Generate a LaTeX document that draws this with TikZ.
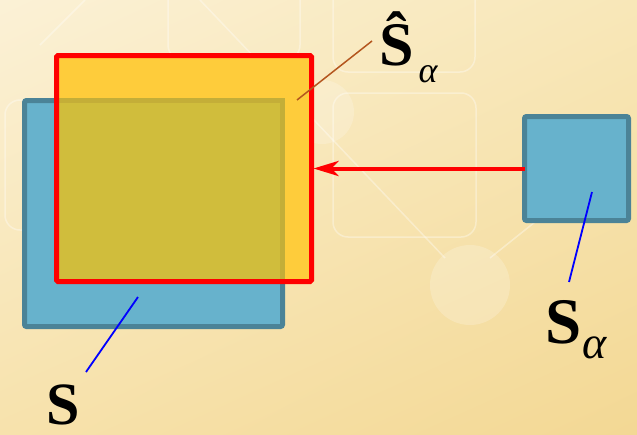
\documentclass[tikz,border=0pt]{standalone}
\usepackage{fontspec}
\setmainfont{Liberation Serif}
\usetikzlibrary{arrows.meta,shadings}

\definecolor{sfill}{HTML}{67B2CC}
\definecolor{sedge}{HTML}{4B8397}
\definecolor{hatyellow}{HTML}{FECC3B}
\definecolor{overlap}{HTML}{D0BD3C}
\definecolor{overedge}{HTML}{C4AE38}
\definecolor{leadbrown}{HTML}{B4561E}
\definecolor{bgtl}{HTML}{FBF1D6}
\definecolor{bgtr}{HTML}{F8E7B8}
\definecolor{bgbl}{HTML}{F7E2AC}
\definecolor{bgbr}{HTML}{F3D894}

\tikzset{
  setbox/.style={rectangle,draw=sedge,fill=sfill,line width=5pt,rounded corners=2pt,outer sep=0pt,inner sep=0pt},
  hatbox/.style={rectangle,fill=hatyellow,outer sep=0pt,inner sep=0pt,minimum width=255pt,minimum height=226pt},
  redline/.style={draw=red,line width=5pt,rounded corners=1.5pt},
  lead/.style={blue,line width=1.8pt},
  lbl/.style={anchor=base west,inner sep=0pt},
  deco/.style={white,opacity=0.35,line width=1.5pt}
}

\begin{document}
\begin{tikzpicture}[x=1pt,y=-1pt]

\useasboundingbox (0,0) rectangle (637,434);
\shade[upper left=bgtl,upper right=bgtr,lower left=bgbl,lower right=bgbr] (0,0) rectangle (637,434);

%background
\draw[deco,rounded corners=15pt] (333,-20) rectangle (475,72);\draw[deco,rounded corners=15pt] (333,93) rectangle (476,237);
\draw[deco,rounded corners=15pt] (5,100) rectangle (120,230);\draw[deco,rounded corners=15pt] (168,-20) rectangle (300,60);
\draw[deco] (200,0)--(445,258);\draw[deco] (85,0)--(40,45);\draw[deco] (490,258)--(535,222);
\fill[white,opacity=0.2] (322,112) circle (32);\fill[white,opacity=0.2] (470,285) circle (40);

\node[setbox,minimum width=258pt,minimum height=226pt] (S) at (153.5,213.5) {};
\node[setbox,minimum width=104pt,minimum height=104pt] (Sa) at (576.5,168.5) {};
\node[hatbox] (Sh) at (184,168.5) {};

\begin{scope}
\clip (Sh.south west) rectangle (Sh.north east);
\fill[overlap] (S.south west) rectangle (S.north east);
\draw[overedge,line width=5pt] (S.south west) rectangle (S.north east);
\end{scope}
\draw[redline] (Sh.south west) rectangle (Sh.north east);

\draw[red,line width=4pt,shorten >=2pt,-{Stealth[length=25pt,width=15pt,inset=7pt]}] (Sa.west)--(Sh.east);

%labels
\node[lbl] (lSh) at (379,65) {\fontsize{62}{62}\selectfont\bfseries Ŝ\kern5pt\raisebox{-17pt}{\fontsize{36}{36}\selectfont\mdseries\itshape α}};
\node[lbl] (lSa) at (545,343) {\fontsize{65}{65}\selectfont\bfseries S\kern1pt\raisebox{-15pt}{\fontsize{46}{46}\selectfont\mdseries\itshape α}};
\node[lbl] (lS) at (46,424) {\fontsize{60}{60}\selectfont\bfseries S};

\coordinate (pSh) at (297,100);\coordinate (eSh) at (372,41);
\coordinate (pSa) at (592,192);\coordinate (eSa) at (569,282);
\coordinate (pS) at (138,297);\coordinate (eS) at (86,372);
\draw[lead,leadbrown,line width=1.5pt] (pSh)--(eSh);\draw[lead] (pSa)--(eSa);\draw[lead] (pS)--(eS);

\end{tikzpicture}
\end{document}
